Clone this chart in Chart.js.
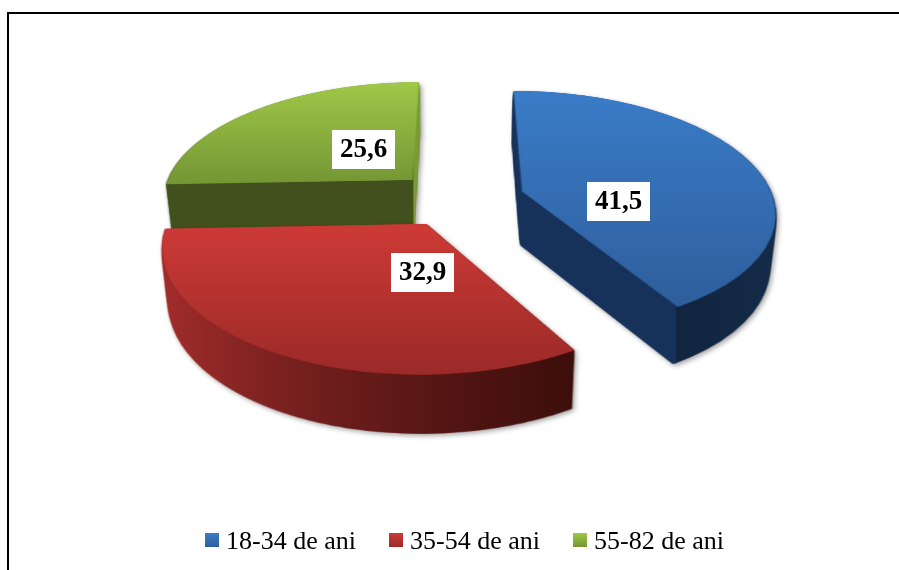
<!DOCTYPE html>
<html>
<head>
<meta charset="utf-8">
<style>
  html, body { margin: 0; padding: 0; background: #fff; }
  #frame { position: absolute; left: 7px; top: 12px; width: 892px; height: 558px; border-left: 2px solid #000; border-top: 2px solid #000; box-sizing: border-box; }
  canvas { position: absolute; left: 0; top: 0; }
</style>
<script src="https://cdn.jsdelivr.net/npm/chart.js@4"></script>
</head>
<body>
<div id="frame"></div>
<canvas id="myChart" width="899" height="570"></canvas>
<script>
//the data
const categories = ['18-34 de ani', '35-54 de ani', '55-82 de ani']
const values = [41.5, 32.9, 25.6]
const valueLabels = ['41,5', '32,9', '25,6']

//the colours
const baseColors = ['#3366a8', '#b03230', '#85a83a']
const topLight = ['rgb(58,124,200)', 'rgb(205,58,54)', 'rgb(160,200,72)']
const topDark = ['rgb(46,94,156)', 'rgb(155,42,40)', 'rgb(116,150,52)']
const wallStops = [
  [[0, '#17325a'], [0.62, '#17325a'], [0.625, '#12253f'], [1, '#142a48']],
  [[0, '#a02c2a'], [0.33, '#75201e'], [0.66, '#561614'], [1, '#3c0e0b']],
  [[0, '#41501c'], [0.975, '#41501c'], [0.98, '#7a9b32'], [1, '#7a9b32']]
]

//the pie is drawn flat by chart.js and then tilted into perspective
const flatRadius = 244
const explodeX = 64
const explodeY = 57
const flatSize = 720
const centerX = 459
const centerY = 198.7
const scaleX = 1.03
const scaleY = 0.486
const persp = 0.00064
const depth = 54
const rowsPerPixel = 3
const labelNudge = [[10.5, 21.2], [46, 5.5], [11.7, -2.8]]

const W = 899
const H = 570

function newCanvas(w, h) {
  const c = document.createElement('canvas')
  c.width = w
  c.height = h
  return c
}

function tiltPoint(u, v) {
  const w = 1 - persp * v
  return [centerX + scaleX * u / w, centerY + scaleY * v / w]
}

//copies the flat picture into the tilted one, row by row
function tilt(flat) {
  const tall = newCanvas(W, H * rowsPerPixel)
  const tallCtx = tall.getContext('2d')
  const c = flatSize / 2
  for (let row = 0; row < H * rowsPerPixel; row++) {
    const t0 = row / rowsPerPixel - centerY
    const t1 = (row + 1) / rowsPerPixel - centerY
    const v0 = t0 / (scaleY + t0 * persp)
    const v1 = t1 / (scaleY + t1 * persp)
    if (v0 < -c || v1 > c) continue
    const s = scaleX / (1 - persp * v0)
    tallCtx.drawImage(flat, 0, c + v0, flatSize, v1 - v0, centerX - s * c, row, flatSize * s, 1)
  }
  const out = newCanvas(W, H)
  const outCtx = out.getContext('2d')
  outCtx.imageSmoothingQuality = 'high'
  outCtx.drawImage(tall, 0, 0, W, H)
  return out
}

function paintOver(canvas, fill) {
  const c = canvas.getContext('2d')
  c.globalCompositeOperation = 'source-in'
  c.fillStyle = fill
  c.fillRect(0, 0, W, H)
}

function sliceBounds(canvas) {
  const px = canvas.getContext('2d').getImageData(0, 0, W, H).data
  let minX = W, maxX = 0, minY = H, maxY = 0
  for (let y = 0; y < H; y++) {
    for (let x = 0; x < W; x++) {
      if (px[(y * W + x) * 4 + 3] > 128) {
        if (x < minX) minX = x
        if (x > maxX) maxX = x
        if (y < minY) minY = y
        if (y > maxY) maxY = y
      }
    }
  }
  return {minX, maxX, minY, maxY}
}

const pie3d = {
  id: 'pie3d',
  beforeDatasetsDraw(chart) {
    const ctx = chart.ctx
    const arcs = chart.getDatasetMeta(0).data
    //back to front so the red slice sits over the green wall
    const order = [2, 0, 1]

    order.forEach((i) => {
      const arc = arcs[i]
      const mid = (arc.startAngle + arc.endAngle) / 2
      const flat = newCanvas(flatSize, flatSize)
      const flatCtx = flat.getContext('2d')
      flatCtx.translate(flatSize / 2 - arc.x + Math.cos(mid) * explodeX, flatSize / 2 - arc.y + Math.sin(mid) * explodeY)
      arc.draw(flatCtx)

      const top = tilt(flat)
      const box = sliceBounds(top)

      //the side wall is the same shape stacked downwards
      const wall = newCanvas(W, H)
      const wallCtx = wall.getContext('2d')
      for (let f = 1; f >= 0; f -= 0.01) {
        const sx = 1 - 0.022 * f
        const sy = 1 + 0.027 * f
        wallCtx.setTransform(sx, 0, 0, sy, centerX * 0.022 * f, f * (depth - 0.027 * 190))
        wallCtx.drawImage(top, 0, 0)
      }
      wallCtx.setTransform(1, 0, 0, 1, 0, 0)
      const wallBox = sliceBounds(wall)
      const side = wallCtx.createLinearGradient(wallBox.minX, 0, wallBox.maxX, 0)
      wallStops[i].forEach((s) => side.addColorStop(s[0], s[1]))
      paintOver(wall, side)

      const face = top.getContext('2d').createLinearGradient(0, box.minY, 0, box.maxY)
      face.addColorStop(0, topLight[i])
      face.addColorStop(1, topDark[i])
      paintOver(top, face)

      ctx.save()
      ctx.shadowColor = 'rgba(0,0,0,0.35)'
      ctx.shadowBlur = 5
      ctx.shadowOffsetX = 2
      ctx.shadowOffsetY = 2
      ctx.drawImage(wall, 0, 0)
      ctx.restore()
      ctx.drawImage(top, 0, 0)
    })
    return false
  },
  afterDraw(chart) {
    const ctx = chart.ctx
    const arcs = chart.getDatasetMeta(0).data

    //value labels
    ctx.save()
    ctx.font = 'bold 27px "Liberation Serif"'
    ctx.textAlign = 'center'
    ctx.textBaseline = 'middle'
    arcs.forEach((arc, i) => {
      const mid = (arc.startAngle + arc.endAngle) / 2
      const inner = flatRadius * 0.368
      const p = tiltPoint(Math.cos(mid) * (explodeX + inner), Math.sin(mid) * (explodeY + inner))
      const x = Math.round(p[0] + labelNudge[i][0] - 0.5) + 0.5
      const y = Math.round(p[1] + labelNudge[i][1] - 0.5) + 0.5
      ctx.fillStyle = '#fff'
      ctx.fillRect(x - 31.5, y - 19.5, 63, 39)
      ctx.fillStyle = '#000'
      ctx.fillText(valueLabels[i], x, y + 1)
    })

    //legend squares are wider than the label gap chart.js leaves
    chart.legend.legendHitBoxes.forEach((hit, i) => {
      const g = ctx.createLinearGradient(0, hit.top + 4, 0, hit.top + 18)
      g.addColorStop(0, topLight[i])
      g.addColorStop(1, topDark[i])
      ctx.fillStyle = g
      ctx.fillRect(hit.left, hit.top + 4, 14, 14)
    })
    ctx.restore()
  }
}

const ctx = document.getElementById('myChart').getContext('2d')

var chart = new Chart(ctx, {
  type: 'pie',
  data: {
    labels: categories,
    datasets: [{
      data: values,
      backgroundColor: baseColors,
      borderWidth: 0
    }]
  },
  options: {
    responsive: false,
    animation: false,
    radius: flatRadius,
    rotation: 0,
    layout: { padding: { left: 30, bottom: 5 } },
    plugins: {
      tooltip: { enabled: false },
      legend: {
        position: 'bottom',
        labels: {
          boxWidth: 8,
          boxHeight: 8,
          padding: 33,
          color: '#000',
          font: { family: '"Liberation Serif"', size: 26 }
        }
      }
    }
  },
  plugins: [pie3d]
})
</script>
</body>
</html>
